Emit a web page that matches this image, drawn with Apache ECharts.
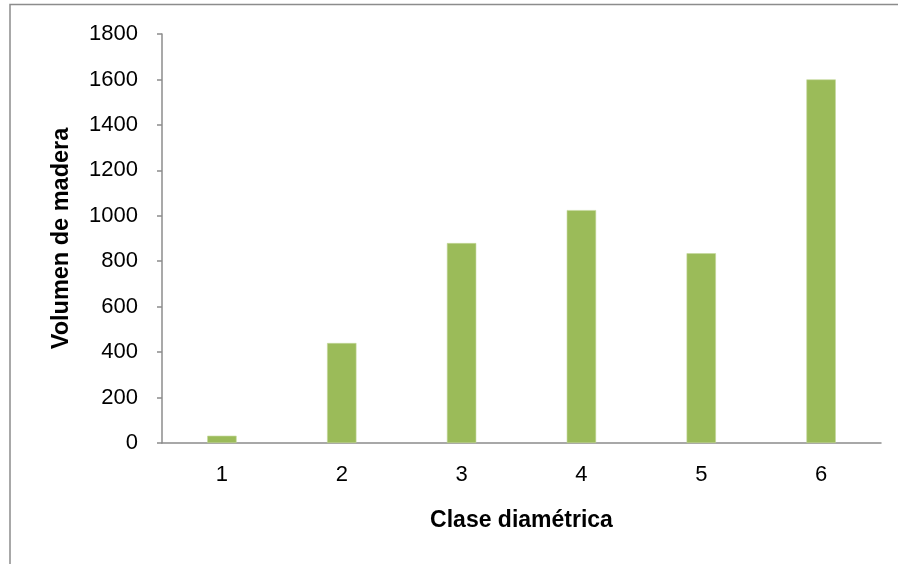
<!DOCTYPE html>
<html>
<head>
<meta charset="utf-8">
<script src="https://cdn.jsdelivr.net/npm/echarts@6/dist/echarts.min.js"></script>
<style>
  html, body { margin: 0; padding: 0; background: #fff; }
  #chart { width: 898px; height: 564px; }
</style>
</head>
<body>
<div id="chart"></div>
<script>
// Diameter classes and timber volume per class
const categories = ['1', '2', '3', '4', '5', '6'];
const volumes = [32, 440, 880, 1025, 835, 1600];
const yTicks = { min: 0, max: 1800, interval: 200 };

const FONT = '"Liberation Sans", "DejaVu Sans", sans-serif';
const AXIS_GREY = '#8c8c8c';

const chart = echarts.init(document.getElementById('chart'), null, { renderer: 'canvas' });

chart.setOption({
  animation: false,
  backgroundColor: '#ffffff',
  graphic: [{
    type: 'rect',
    shape: { x: 10, y: 4.5, width: 1000, height: 1000 },
    style: { fill: 'none', stroke: AXIS_GREY, lineWidth: 1.5 },
    silent: true
  }],
  grid: { left: 162, top: 34, right: 17, bottom: 121 },
  xAxis: {
    type: 'category',
    data: categories,
    name: 'Clase diamétrica',
    nameLocation: 'middle',
    nameGap: 66,
    nameTextStyle: { fontFamily: FONT, fontSize: 23, fontWeight: 'bold', color: '#000' },
    axisLine: { lineStyle: { color: AXIS_GREY, width: 1.5 } },
    axisTick: { show: false },
    axisLabel: { fontFamily: FONT, fontSize: 22, color: '#000', margin: 21 }
  },
  yAxis: {
    type: 'value',
    min: yTicks.min,
    max: yTicks.max,
    interval: yTicks.interval,
    name: 'Volumen de madera',
    nameLocation: 'middle',
    nameGap: 88,
    nameTextStyle: { fontFamily: FONT, fontSize: 23.5, fontWeight: 'bold', color: '#000' },
    axisLine: { show: true, lineStyle: { color: AXIS_GREY, width: 1.5 } },
    axisTick: { show: true, inside: false, length: 5, lineStyle: { color: AXIS_GREY, width: 1.5 } },
    axisLabel: {
      fontFamily: FONT, fontSize: 22, color: '#000', margin: 24,
      formatter: (v) => String(v)
    },
    splitLine: { show: false }
  },
  series: [{
    type: 'bar',
    data: volumes,
    barWidth: '24.5%',
    itemStyle: { color: '#9bbb59', borderColor: '#c4d79b', borderWidth: 0.6 }
  }]
});
</script>
</body>
</html>
